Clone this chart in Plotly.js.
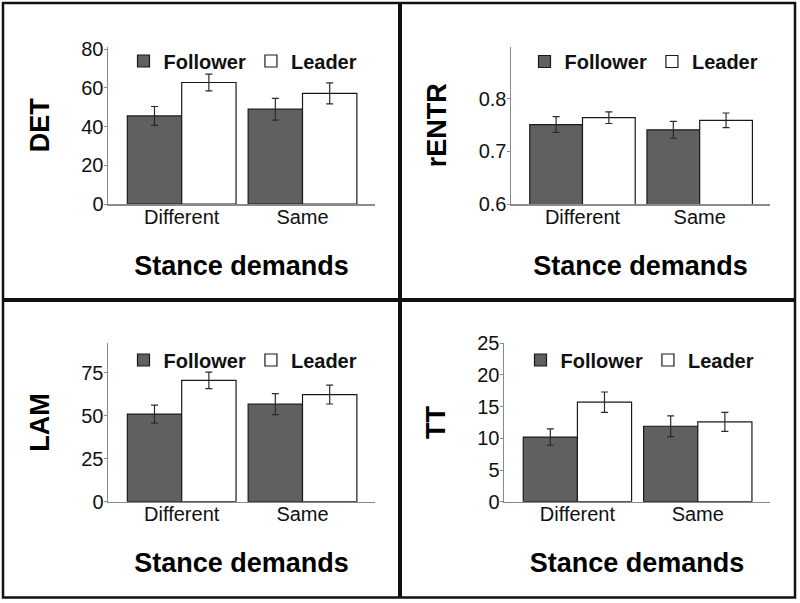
<!DOCTYPE html>
<html>
<head>
<meta charset="utf-8">
<script src="https://cdn.plot.ly/plotly-3.0.1.min.js"></script>
<style>html,body{margin:0;padding:0;background:#fff;}#chart{width:800px;height:603px;}</style>
</head>
<body>
<div id="chart"></div>
<script>
// ---- data ----
var categories = ['Different', 'Same'];
var seriesNames = ['Follower', 'Leader'];

var detFollower = [45.5, 49.0];
var detFollowerErr = [4.9, 5.6];
var detLeader = [62.8, 57.2];
var detLeaderErr = [4.3, 5.4];

var rentrFollower = [0.751, 0.741];
var rentrFollowerErr = [0.015, 0.016];
var rentrLeader = [0.764, 0.759];
var rentrLeaderErr = [0.011, 0.014];

var lamFollower = [51.0, 56.8];
var lamFollowerErr = [5.2, 6.1];
var lamLeader = [70.6, 62.4];
var lamLeaderErr = [4.8, 5.5];

var ttFollower = [10.2, 11.9];
var ttFollowerErr = [1.3, 1.65];
var ttLeader = [15.7, 12.6];
var ttLeaderErr = [1.6, 1.5];

var yTitles = ['DET', 'rENTR', 'LAM', 'TT'];
var xTitle = 'Stance demands';

// ---- styles ----
var FONT = 'Liberation Sans, Arial, Helvetica, sans-serif';
var followerFill = '#606060';
var leaderFill = '#ffffff';
var barLine = '#1a1a1a';
var errColor = '#2a2a2a';

function barTrace(name, y, err, n, fill) {
  var s = n === 1 ? '' : String(n);
  return {
    type: 'bar', name: name, x: categories, y: y,
    xaxis: 'x' + s, yaxis: 'y' + s, legend: 'legend' + s,
    marker: {color: fill, line: {color: barLine, width: 1.2}},
    error_y: {type: 'data', array: err, visible: true, color: errColor, thickness: 1.2, width: 3.5},
    hoverinfo: 'skip'
  };
}

var data = [
  barTrace(seriesNames[0], detFollower, detFollowerErr, 1, followerFill),
  barTrace(seriesNames[1], detLeader, detLeaderErr, 1, leaderFill),
  barTrace(seriesNames[0], rentrFollower, rentrFollowerErr, 2, followerFill),
  barTrace(seriesNames[1], rentrLeader, rentrLeaderErr, 2, leaderFill),
  barTrace(seriesNames[0], lamFollower, lamFollowerErr, 3, followerFill),
  barTrace(seriesNames[1], lamLeader, lamLeaderErr, 3, leaderFill),
  barTrace(seriesNames[0], ttFollower, ttFollowerErr, 4, followerFill),
  barTrace(seriesNames[1], ttLeader, ttLeaderErr, 4, leaderFill)
];

var W = 800, H = 603;
function fy(px) { return (H - px) / H; }

function xAxis(domain, anchor) {
  return {
    domain: domain, anchor: anchor, range: [-0.61, 1.6],
    showline: true, linecolor: '#8a8a8a', linewidth: 1.5,
    ticks: '', showgrid: false, zeroline: false, fixedrange: true,
    ticklabelstandoff: -6,
    tickfont: {family: FONT, size: 20, color: '#111'},
    title: {text: xTitle, standoff: 29, font: {family: FONT, size: 27, color: '#000', weight: 'bold'}}
  };
}
function yAxis(domain, anchor, range, title, extra) {
  var a = {
    domain: domain, anchor: anchor, range: range,
    showline: true, linecolor: '#8a8a8a', linewidth: 1.5,
    ticks: 'outside', ticklen: 3, tickcolor: '#8a8a8a', tickwidth: 1,
    ticklabelstandoff: -4,
    showgrid: false, zeroline: false, fixedrange: true,
    tickfont: {family: FONT, size: 20, color: '#111'},
    title: {text: title, standoff: 24, font: {family: FONT, size: 27, color: '#000', weight: 'bold'}}
  };
  for (var k in extra) a[k] = extra[k];
  return a;
}
function legendAt(xc, yc) {
  return {
    orientation: 'h', x: xc / W, y: fy(yc), xanchor: 'center', yanchor: 'middle',
    xref: 'paper', yref: 'paper', bgcolor: 'rgba(0,0,0,0)',
    font: {family: FONT, size: 20, color: '#111', weight: 'bold'},
    itemwidth: 30, traceorder: 'normal'
  };
}

var topDom = [fy(204), fy(46.7)];
var botDom = [fy(501.7), fy(343.2)];

var layout = {
  width: W, height: H,
  margin: {l: 0, r: 0, t: 0, b: 0},
  paper_bgcolor: '#fff', plot_bgcolor: '#fff',
  barmode: 'group', bargap: 0.1, bargroupgap: 0,
  showlegend: true,
  font: {family: FONT},
  xaxis: xAxis([108 / W, 375 / W], 'y'),
  yaxis: yAxis(topDom, 'x', [0, 81.3], yTitles[0], {dtick: 20}),
  xaxis2: xAxis([511 / W, 770 / W], 'y2'),
  yaxis2: yAxis(topDom, 'x2', [0.6, 0.899], yTitles[1], {tickvals: [0.6, 0.7, 0.8], ticktext: ['0.6', '0.7', '0.8']}),
  xaxis3: xAxis([108 / W, 375 / W], 'y3'),
  yaxis3: yAxis(botDom, 'x3', [0, 92.3], yTitles[2], {dtick: 25}),
  xaxis4: xAxis([504 / W, 770 / W], 'y4'),
  yaxis4: yAxis(botDom, 'x4', [0, 25], yTitles[3], {dtick: 5}),
  legend: legendAt(243, 61),
  legend2: legendAt(644, 61.5),
  legend3: legendAt(243, 360),
  legend4: legendAt(640, 360),
  shapes: [
    {type: 'rect', xref: 'paper', yref: 'paper', x0: 3 / W, x1: 795 / W, y0: fy(597.5), y1: fy(3),
     line: {color: '#111', width: 2.5}, fillcolor: 'rgba(0,0,0,0)', layer: 'above'},
    {type: 'line', xref: 'paper', yref: 'paper', x0: 400 / W, x1: 400 / W, y0: fy(597.5), y1: fy(3),
     line: {color: '#111', width: 4}, layer: 'above'},
    {type: 'line', xref: 'paper', yref: 'paper', x0: 3 / W, x1: 795 / W, y0: fy(300), y1: fy(300),
     line: {color: '#111', width: 4}, layer: 'above'}
  ]
};

Plotly.newPlot('chart', data, layout, {staticPlot: true, displayModeBar: false});
</script>
</body>
</html>
